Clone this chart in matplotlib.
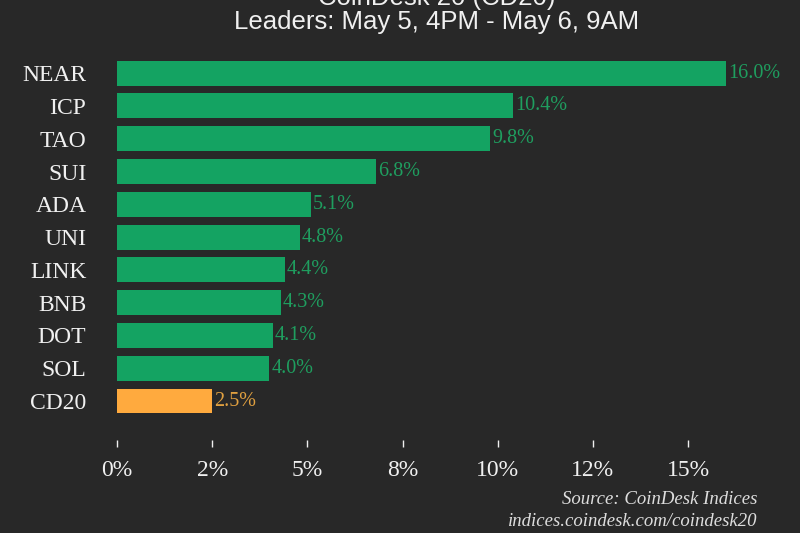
import matplotlib
matplotlib.use("Agg")
import matplotlib.pyplot as plt
from matplotlib.ticker import FuncFormatter

# Data
coins = ["NEAR", "ICP", "TAO", "SUI", "ADA", "UNI", "LINK", "BNB", "DOT", "SOL", "CD20"]
changes = [16.0, 10.4, 9.8, 6.8, 5.1, 4.8, 4.4, 4.3, 4.1, 4.0, 2.5]
x_ticks = [0, 2.5, 5, 7.5, 10, 12.5, 15]

bg = "#282828"
green = "#14A362"
green_txt = "#1F9E5F"
orange = "#FFAA3E"
orange_txt = "#E0A040"
serif = "Liberation Serif"
title_font = "Liberation Sans"

fig = plt.figure(figsize=(8, 5.33), dpi=100, facecolor=bg)
ax = fig.add_axes([117 / 800, 0.2107, (790 - 117) / 800, 0.689])
ax.set_facecolor(bg)

colors = [orange if c == "CD20" else green for c in coins]
ypos = list(range(len(coins)))
ax.barh(ypos, changes, height=0.76, color=colors)

for y, v, c in zip(ypos, changes, coins):
    ax.text(v + 0.05, y, f"{v:.1f}%", va="center", ha="left",
            color=orange_txt if c == "CD20" else green_txt,
            fontsize=14.5, family=serif)

ax.set_ylim(10.6, -0.6)
ax.set_xlim(0, (790 - 117) / 38.07)
ax.set_yticks(ypos)
ax.set_yticklabels(coins, family=serif, fontsize=17, color="#f0f0f0")
ax.tick_params(axis="y", length=0, pad=22)

ax.set_xticks(x_ticks)
ax.xaxis.set_major_formatter(FuncFormatter(lambda v, p: f"{v:.0f}%"))
ax.tick_params(axis="x", colors="#f0f0f0", labelsize=17, length=5, width=1, pad=9,
               direction="out", labelfontfamily=serif)

for s in ["top", "right", "left"]:
    ax.spines[s].set_visible(False)
ax.spines["bottom"].set_position(("outward", 14))
ax.spines["bottom"].set_visible(False)

title_x = 437 / 800
fig.text(title_x, 1.003, "CoinDesk 20 (CD20)", ha="center", va="center",
         fontsize=18.5, color="#f0f0f0", family=title_font)
fig.text(title_x, 1 - 22 / 533, "Leaders: May 5, 4PM - May 6, 9AM", ha="center", va="center",
         fontsize=18.5, color="#f0f0f0", family=title_font)

fig.text(757 / 800, 1 - 499 / 533, "Source: CoinDesk Indices", ha="right", va="center",
         fontsize=13.5, style="italic", color="#dddddd", family=serif)
fig.text(757 / 800, 1 - 521 / 533, "indices.coindesk.com/coindesk20", ha="right", va="center",
         fontsize=13.5, style="italic", color="#dddddd", family=serif)

fig.savefig("out.png", dpi=100, facecolor=bg)
